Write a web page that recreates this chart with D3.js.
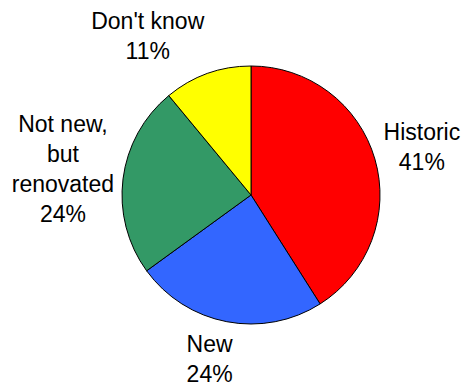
<!DOCTYPE html>
<html>
<head>
<meta charset="utf-8">
<script src="https://cdn.jsdelivr.net/npm/d3@7/dist/d3.min.js"></script>
<style>
  html, body { margin: 0; padding: 0; background: #fff; }
  svg { display: block; }
  text { font-family: "Liberation Sans", Arial, Helvetica, sans-serif; font-size: 23px; fill: #000; }
</style>
</head>
<body>
<svg id="chart" width="464" height="387"></svg>
<script>
// Building type shares, clockwise from 12 o'clock
const categories = ["Historic", "New", "Not new, but renovated", "Don't know"];
const categoryLines = [["Historic"], ["New"], ["Not new,", "but", "renovated"], ["Don't know"]];
const values = [41, 24, 24, 11];
const colors = ["#FF0000", "#3366FF", "#339966", "#FFFF00"];

const width = 464, height = 387;
const cx = 251, cy = 195, radius = 129;
const lineHeight = 30, baselineOffset = 22, labelGap = 9;

const svg = d3.select("#chart");
const g = svg.append("g").attr("transform", `translate(${cx},${cy})`);

const pie = d3.pie().sort(null).value(d => d.value).startAngle(0).endAngle(2 * Math.PI);
const arc = d3.arc().innerRadius(0).outerRadius(radius);

const data = categories.map((c, i) => ({ name: c, lines: categoryLines[i], value: values[i], color: colors[i] }));
const arcs = pie(data);

g.selectAll("path.slice")
  .data(arcs)
  .join("path")
  .attr("class", "slice")
  .attr("d", arc)
  .attr("fill", d => d.data.color)
  .attr("stroke", "#000")
  .attr("stroke-width", 1)
  .attr("stroke-linejoin", "round");

// Labels: anchored just outside the rim at each slice's mid-angle; the
// text box is aligned so that it sits on the outer side of the anchor.
const total = d3.sum(values);
const labels = g.selectAll("g.label")
  .data(arcs)
  .join("g")
  .attr("class", "label");

labels.each(function (d) {
  const sel = d3.select(this);
  const lines = d.data.lines.concat([Math.round(d.data.value / total * 100) + "%"]);
  const texts = sel.selectAll("text")
    .data(lines)
    .join("text")
    .attr("text-anchor", "middle")
    .text(t => t);
  const w = d3.max(texts.nodes(), n => n.getComputedTextLength());
  const h = lines.length * lineHeight;
  const a = (d.startAngle + d.endAngle) / 2;
  const s = Math.sin(a), c = Math.cos(a);
  const px = (radius + labelGap) * s;
  const py = -(radius + labelGap) * c;
  const xAlign = Math.max(0, Math.min(1, 0.5 - 1.8 * s));
  const yAlign = (1 + c) / 2;
  const left = px - xAlign * w;
  const top = py - yAlign * h;
  texts
    .attr("x", left + w / 2)
    .attr("y", (t, i) => top + baselineOffset + i * lineHeight);
});
</script>
</body>
</html>
